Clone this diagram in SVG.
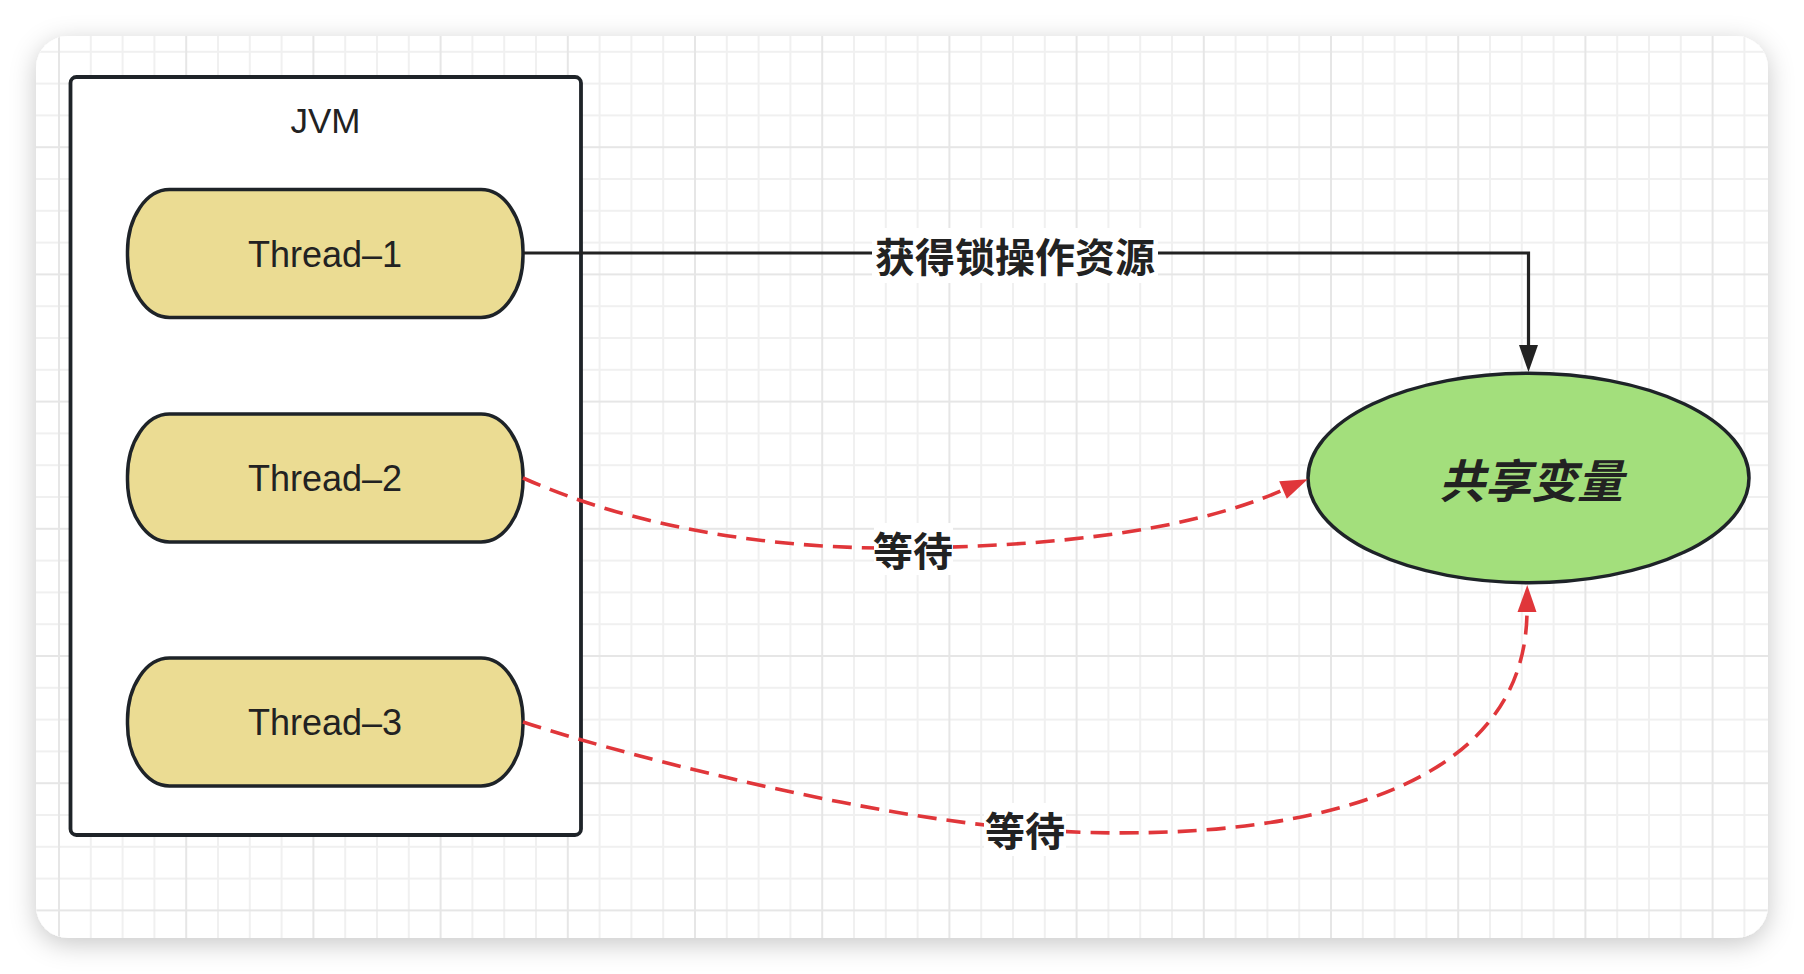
<svg xmlns="http://www.w3.org/2000/svg" width="1804" height="974" viewBox="0 0 1804 974">
<style>
.thread{fill:#ebdc93;stroke:#1e2328;stroke-width:3.5}
.ttext{font-family:"Liberation Sans",Arial,sans-serif;font-size:36px;fill:#222;text-anchor:middle}
.cjk{font-family:"Noto Sans CJK SC",sans-serif;font-weight:bold;fill:#222;text-anchor:middle;dominant-baseline:central}
.lbl{font-size:40px}
.lblbg{fill:#ffffff}
.edge{fill:none;stroke-width:3.2}
.black{stroke:#222}
.red{stroke:#e0363a;stroke-width:3.6;stroke-dasharray:19 10}
</style>
<defs>
<pattern id="grid" patternUnits="userSpaceOnUse" x="58" y="19" width="127.2" height="127.2">
<g fill="#f0f0f0">
<rect x="31.8" y="0" width="2" height="127.2"/>
<rect x="63.6" y="0" width="2" height="127.2"/>
<rect x="95.4" y="0" width="2" height="127.2"/>
<rect x="0" y="31.8" width="127.2" height="2"/>
<rect x="0" y="63.6" width="127.2" height="2"/>
<rect x="0" y="95.4" width="127.2" height="2"/>
</g>
<g fill="#e6e6e6">
<rect x="0" y="0" width="2" height="127.2"/>
<rect x="0" y="0" width="127.2" height="2"/>
</g>
</pattern>
<filter id="shadow" x="-10%" y="-10%" width="120%" height="125%">
<feDropShadow dx="0" dy="6" stdDeviation="13" flood-color="#000" flood-opacity="0.22"/>
</filter>
<marker id="arrowBlack" markerUnits="userSpaceOnUse" markerWidth="28" markerHeight="20" refX="0" refY="9.5" orient="auto" overflow="visible">
<path d="M0,0 L27,9.5 L0,19 Z" fill="#222"/>
</marker>
<marker id="arrowRed" markerUnits="userSpaceOnUse" markerWidth="28" markerHeight="20" refX="0" refY="9.5" orient="auto" overflow="visible">
<path d="M0,0 L27,9.5 L0,19 Z" fill="#e0363a"/>
</marker>
</defs>
<rect x="0" y="0" width="1804" height="974" fill="#ffffff"/>
<g id="card">
<rect x="36" y="36" width="1732" height="902" rx="32" ry="32" fill="#ffffff" filter="url(#shadow)"/>
<rect x="36" y="36" width="1732" height="902" rx="32" ry="32" fill="url(#grid)"/>
</g>
<g id="jvm">
<rect x="70.5" y="77" width="510.5" height="758" rx="6" ry="6" fill="#ffffff" stroke="#1e2328" stroke-width="3.8"/>
<text class="ttext" x="325.5" y="132.5" style="font-size:35px">JVM</text>
</g>
<g id="thread-1">
<rect class="thread" x="127.5" y="189.5" width="395.5" height="128" rx="42" ry="62"/>
<text class="ttext" x="325" y="266.5">Thread–1</text>
</g>
<g id="thread-2">
<rect class="thread" x="127.5" y="414" width="395.5" height="128" rx="42" ry="62"/>
<text class="ttext" x="325" y="491">Thread–2</text>
</g>
<g id="thread-3">
<rect class="thread" x="127.5" y="658" width="395.5" height="128" rx="42" ry="62"/>
<text class="ttext" x="325" y="735">Thread–3</text>
</g>
<g id="shared-variable">
<ellipse cx="1528.5" cy="478" rx="220.5" ry="104.7" fill="#a3df7c" stroke="#1e2328" stroke-width="3.5"/>
<text class="cjk" x="1531" y="478" style="font-size:46px;font-style:italic">共享变量</text>
</g>
<g id="connectors">
<path class="edge black" d="M523,253 H1528.5 V345" marker-end="url(#arrowBlack)"/>
<path class="edge red" d="M523,478 C640,530 780,550 912,548 C1040,546 1183,534 1283,490" marker-end="url(#arrowRed)"/>
<path class="edge red" d="M523,722 C600,748 850,815 1025,829 C1200,843 1525,830 1527,612" marker-end="url(#arrowRed)"/>
<g id="label-acquire">
<rect class="lblbg" x="872" y="228" width="286" height="55"/>
<text class="cjk lbl" x="1015" y="255">获得锁操作资源</text>
</g>
<g id="label-wait-2">
<rect class="lblbg" x="874" y="523" width="79" height="52"/>
<text class="cjk lbl" x="913" y="549">等待</text>
</g>
<g id="label-wait-3">
<rect class="lblbg" x="984" y="803" width="82" height="53"/>
<text class="cjk lbl" x="1025" y="829">等待</text>
</g>
</g>
</svg>
